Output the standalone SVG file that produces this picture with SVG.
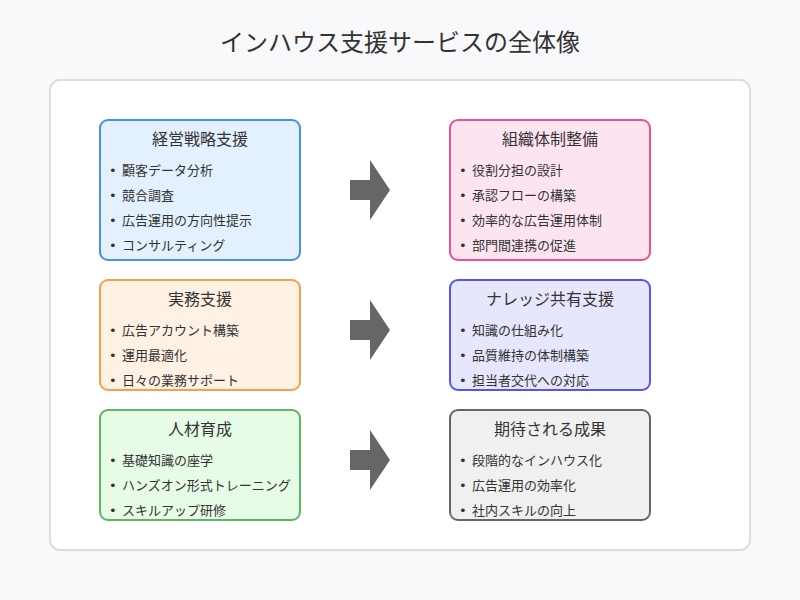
<svg xmlns="http://www.w3.org/2000/svg" width="800" height="600" viewBox="0 0 800 600">
<style>
text{font-family:"Noto Sans CJK JP","Noto Sans CJK SC",sans-serif;fill:#333}
.title{font-size:24px;text-anchor:middle}
.h{font-size:16px;text-anchor:middle}
.i{font-size:13px}
.b{font-family:"DejaVu Sans",sans-serif;font-size:13px}
.card{stroke-width:2}
.arrow{fill:#666}
</style>
<rect x="0" y="0" width="800" height="600" fill="#f8f9fa"/>
<text class="title" x="400" y="51">インハウス支援サービスの全体像</text>
<rect x="50" y="80" width="700" height="470" rx="10" fill="#fff" stroke="#ddd" stroke-width="2"/>

<g id="node-strategy">
<rect class="card" x="100" y="120" width="200" height="140" rx="8" fill="#e3f0fd" stroke="#4a90e2"/>
<text class="h" x="200" y="145">経営戦略支援</text>
<text class="i" x="109" y="175"><tspan class="b">•</tspan><tspan x="122">顧客データ分析</tspan></text>
<text class="i" x="109" y="200"><tspan class="b">•</tspan><tspan x="122">競合調査</tspan></text>
<text class="i" x="109" y="225"><tspan class="b">•</tspan><tspan x="122">広告運用の方向性提示</tspan></text>
<text class="i" x="109" y="250"><tspan class="b">•</tspan><tspan x="122">コンサルティング</tspan></text>
</g>
<g id="node-org">
<rect class="card" x="450" y="120" width="200" height="140" rx="8" fill="#fde4f1" stroke="#f0508f"/>
<text class="h" x="550" y="145">組織体制整備</text>
<text class="i" x="459" y="175"><tspan class="b">•</tspan><tspan x="472">役割分担の設計</tspan></text>
<text class="i" x="459" y="200"><tspan class="b">•</tspan><tspan x="472">承認フローの構築</tspan></text>
<text class="i" x="459" y="225"><tspan class="b">•</tspan><tspan x="472">効率的な広告運用体制</tspan></text>
<text class="i" x="459" y="250"><tspan class="b">•</tspan><tspan x="472">部門間連携の促進</tspan></text>
</g>
<g id="node-practice">
<rect class="card" x="100" y="280" width="200" height="110" rx="8" fill="#fff1e4" stroke="#f5a04a"/>
<text class="h" x="200" y="305">実務支援</text>
<text class="i" x="109" y="335"><tspan class="b">•</tspan><tspan x="122">広告アカウント構築</tspan></text>
<text class="i" x="109" y="360"><tspan class="b">•</tspan><tspan x="122">運用最適化</tspan></text>
<text class="i" x="109" y="385"><tspan class="b">•</tspan><tspan x="122">日々の業務サポート</tspan></text>
</g>
<g id="node-knowledge">
<rect class="card" x="450" y="280" width="200" height="110" rx="8" fill="#e6e6fc" stroke="#5555ee"/>
<text class="h" x="550" y="305">ナレッジ共有支援</text>
<text class="i" x="459" y="335"><tspan class="b">•</tspan><tspan x="472">知識の仕組み化</tspan></text>
<text class="i" x="459" y="360"><tspan class="b">•</tspan><tspan x="472">品質維持の体制構築</tspan></text>
<text class="i" x="459" y="385"><tspan class="b">•</tspan><tspan x="472">担当者交代への対応</tspan></text>
</g>
<g id="node-training">
<rect class="card" x="100" y="410" width="200" height="110" rx="8" fill="#e6fce6" stroke="#5cb85c"/>
<text class="h" x="200" y="435">人材育成</text>
<text class="i" x="109" y="465"><tspan class="b">•</tspan><tspan x="122">基礎知識の座学</tspan></text>
<text class="i" x="109" y="490"><tspan class="b">•</tspan><tspan x="122">ハンズオン形式トレーニング</tspan></text>
<text class="i" x="109" y="515"><tspan class="b">•</tspan><tspan x="122">スキルアップ研修</tspan></text>
</g>
<g id="node-results">
<rect class="card" x="450" y="410" width="200" height="110" rx="8" fill="#f0f0f0" stroke="#666"/>
<text class="h" x="550" y="435">期待される成果</text>
<text class="i" x="459" y="465"><tspan class="b">•</tspan><tspan x="472">段階的なインハウス化</tspan></text>
<text class="i" x="459" y="490"><tspan class="b">•</tspan><tspan x="472">広告運用の効率化</tspan></text>
<text class="i" x="459" y="515"><tspan class="b">•</tspan><tspan x="472">社内スキルの向上</tspan></text>
</g>

<g id="connectors">
<polygon class="arrow" points="350,180 370,180 370,160 390,190 370,220 370,200 350,200"/>
<polygon class="arrow" points="350,320 370,320 370,300 390,330 370,360 370,340 350,340"/>
<polygon class="arrow" points="350,450 370,450 370,430 390,460 370,490 370,470 350,470"/>
</g>
</svg>
